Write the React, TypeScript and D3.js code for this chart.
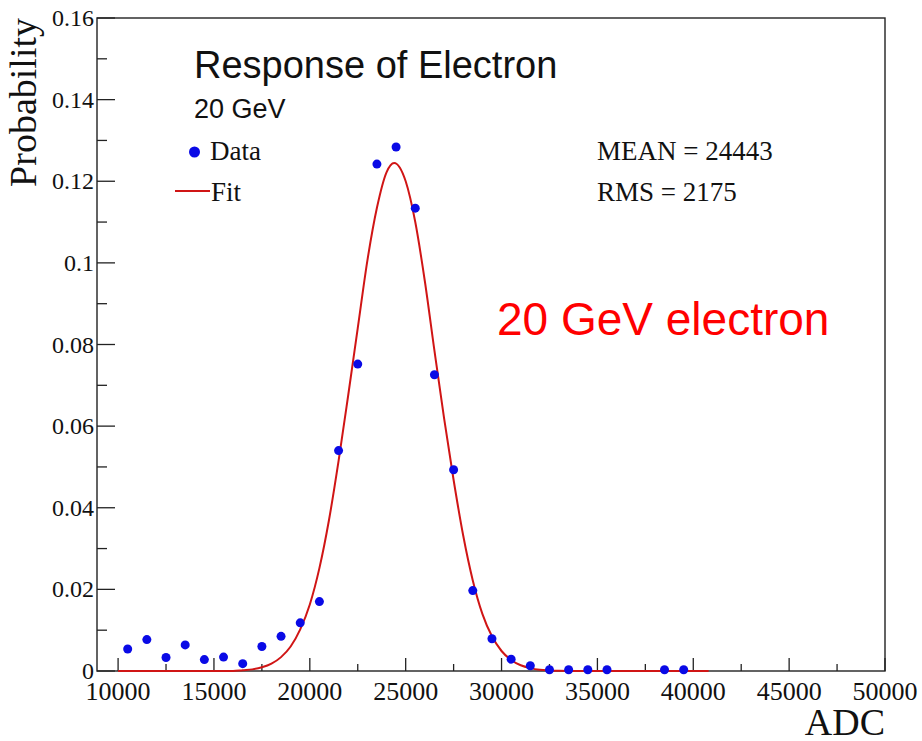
import React from "react";
import * as d3 from "d3";

const binCenters = [10500, 11500, 12500, 13500, 14500, 15500, 16500, 17500, 18500, 19500, 20500, 21500, 22500, 23500, 24500, 25500, 26500, 27500, 28500, 29500, 30500, 31500, 32500, 33500, 34500, 35500, 38500, 39500];
const dataValues = [0.0054, 0.0077, 0.0033, 0.0064, 0.0028, 0.0034, 0.0018, 0.006, 0.0085, 0.0118, 0.017, 0.054, 0.0752, 0.1242, 0.1284, 0.1134, 0.0726, 0.0493, 0.0197, 0.0079, 0.0029, 0.0013, 0.0003, 0.0003, 0.0003, 0.0003, 0.0003, 0.0003];

const fitX = [10000, 16000, 16500, 17000, 17500, 18000, 18500, 19000, 19500, 20000, 20500, 21000, 21500, 22000, 22500, 23000, 23500, 24000, 24400, 25000, 25500, 26000, 26500, 27000, 27500, 28000, 28500, 29000, 29500, 30000, 30500, 31000, 31500, 32000, 32500, 33000, 34000, 40800];
const fitY = [0, 0, 0.0002, 0.0004, 0.0009, 0.0018, 0.0034, 0.006, 0.0102, 0.0163, 0.0252, 0.037, 0.0515, 0.0675, 0.084, 0.1005, 0.1135, 0.1222, 0.1245, 0.12, 0.11, 0.0955, 0.0785, 0.062, 0.0468, 0.0332, 0.0222, 0.014, 0.0085, 0.0049, 0.0027, 0.0014, 0.0007, 0.0003, 0.00015, 0.00006, 0, 0];

const xMajorTicks = [10000, 15000, 20000, 25000, 30000, 35000, 40000, 45000, 50000];
const xMinorTicks = [12500, 17500, 22500, 27500, 32500, 37500, 42500, 47500];
const yMajorTicks = [0, 0.02, 0.04, 0.06, 0.08, 0.1, 0.12, 0.14, 0.16];
const yMinorTicks = [0.01, 0.03, 0.05, 0.07, 0.09, 0.11, 0.13, 0.15];
const yTickLabels = ["0", "0.02", "0.04", "0.06", "0.08", "0.1", "0.12", "0.14", "0.16"];

const SERIF = '"Liberation Serif", "Times New Roman", serif';
const SANS = '"Liberation Sans", Arial, sans-serif';

export default function App() {
  const x = d3.scaleLinear().domain([8900, 50000]).range([97, 885]);
  const y = d3.scaleLinear().domain([0, 0.16]).range([671, 18]);
  const fitPts = fitX.map((v, i) => [v, fitY[i]] as [number, number]);
  const line = d3
    .line<[number, number]>()
    .x((d) => x(d[0]))
    .y((d) => y(d[1]))
    .curve(d3.curveMonotoneX);

  return (
    <svg
      width={922}
      height={741}
      style={{ position: "absolute", left: 0, top: 0, background: "#fff" }}
    >
      <rect x={0} y={0} width={922} height={741} fill="#fff" />
      {/* frame */}
      <rect x={97} y={18} width={788} height={653} fill="none" stroke="#222" strokeWidth={1.4} />
      {/* x ticks */}
      {xMajorTicks.map((t) => (
        <line key={"xM" + t} x1={x(t)} x2={x(t)} y1={671} y2={658} stroke="#222" strokeWidth={1.3} />
      ))}
      {xMinorTicks.map((t) => (
        <line key={"xm" + t} x1={x(t)} x2={x(t)} y1={671} y2={664} stroke="#222" strokeWidth={1.3} />
      ))}
      {xMajorTicks.map((t) => (
        <text key={"xl" + t} x={x(t)} y={700} textAnchor="middle" fontFamily={SERIF} fontSize={26} fill="#111">
          {String(t)}
        </text>
      ))}
      {/* y ticks */}
      {yMajorTicks.map((t) => (
        <line key={"yM" + t} x1={97} x2={115} y1={y(t)} y2={y(t)} stroke="#222" strokeWidth={1.3} />
      ))}
      {yMinorTicks.map((t) => (
        <line key={"ym" + t} x1={97} x2={107} y1={y(t)} y2={y(t)} stroke="#222" strokeWidth={1.3} />
      ))}
      {yMajorTicks.map((t, i) => (
        <text key={"yl" + t} x={94} y={y(t) + 8} textAnchor="end" fontFamily={SERIF} fontSize={24} fill="#111">
          {yTickLabels[i]}
        </text>
      ))}
      {/* axis titles */}
      <text x={885} y={735} textAnchor="end" fontFamily={SERIF} fontSize={38} fill="#111">
        ADC
      </text>
      <text
        transform="translate(36,18) rotate(-90)"
        textAnchor="end"
        fontFamily={SERIF}
        fontSize={38}
        fill="#111"
      >
        Probability
      </text>
      {/* fit curve */}
      <path d={line(fitPts) || ""} fill="none" stroke="#d01515" strokeWidth={2} />
      {/* data */}
      {binCenters.map((b, i) => (
        <circle key={"p" + b} cx={x(b)} cy={y(dataValues[i])} r={4.5} fill="#0a0ae6" />
      ))}
      {/* titles */}
      <text x={194} y={78} fontFamily={SANS} fontSize={38} fill="#111">
        Response of Electron
      </text>
      <text x={194} y={118} fontFamily={SANS} fontSize={27} fill="#111">
        20 GeV
      </text>
      {/* legend */}
      <circle cx={194.5} cy={152} r={5.5} fill="#0a0ae6" />
      <text x={210} y={160} fontFamily={SERIF} fontSize={27} fill="#111">
        Data
      </text>
      <line x1={175} x2={210} y1={191} y2={191} stroke="#d01515" strokeWidth={2} />
      <text x={211} y={201} fontFamily={SERIF} fontSize={27} fill="#111">
        Fit
      </text>
      {/* stats */}
      <text x={597} y={160} fontFamily={SERIF} fontSize={27} fill="#111">
        MEAN = 24443
      </text>
      <text x={597} y={201} fontFamily={SERIF} fontSize={27} fill="#111">
        RMS = 2175
      </text>
      {/* annotation */}
      <text x={497} y={335} fontFamily={SANS} fontSize={46} fill="#ff0000">
        20 GeV electron
      </text>
    </svg>
  );
}
